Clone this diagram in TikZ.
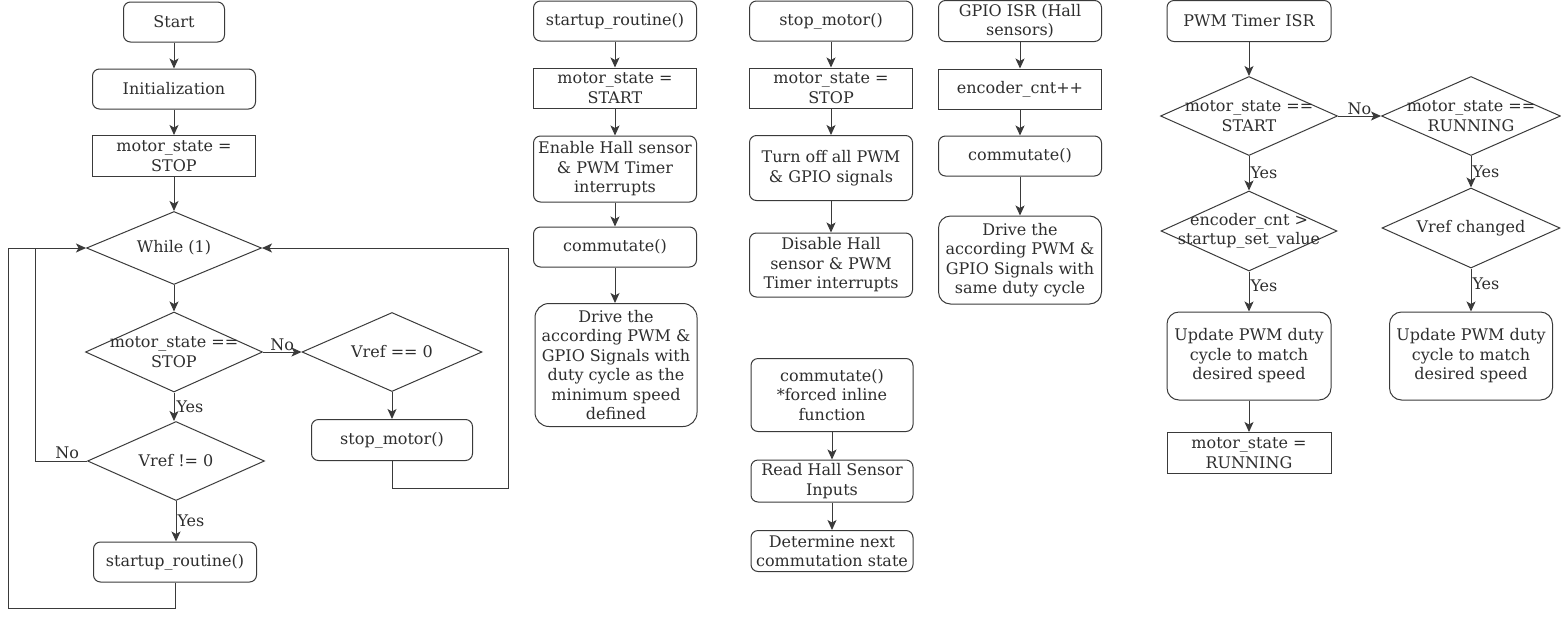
\documentclass[tikz,border=0pt]{standalone}
\usepackage{fontspec}
\setmainfont{DejaVu Serif}
\usetikzlibrary{shapes.geometric,arrows.meta}
\definecolor{ln}{HTML}{3A3A3A}
\definecolor{tx}{HTML}{2E2E2E}
\begin{document}
\begin{tikzpicture}[x=1pt,y=-1pt,
  every node/.style={font=\fontsize{16}{19.5}\selectfont, text=tx, align=center},
  base/.style={draw=ln, line width=1pt, inner sep=0pt},
  rbox/.style={base, rectangle, rounded corners=7pt},
  sbox/.style={base, rectangle},
  dbox/.style={base, diamond},
  lab/.style={inner sep=2pt},
  arr/.style={draw=ln, line width=1pt, -{Stealth[length=10pt,width=9pt,inset=2.5pt]}},
  ln/.style={draw=ln, line width=1pt}]
\useasboundingbox (0,0) rectangle (1561,619);
% ---- column 1: main
\node[rbox, minimum width=101pt, minimum height=40pt] (start) at (174,22) {Start};
\node[rbox, minimum width=163pt, minimum height=40pt] (init) at (174,89) {Initialization};
\node[sbox, minimum width=163pt, minimum height=41pt] (ms1) at (174,156) {motor\_state =\\STOP};
\node[dbox, minimum width=175pt, minimum height=73pt, label={center:While (1)}] (while) at (174,248) {};
\node[dbox, minimum width=177pt, minimum height=80pt, label={[align=center]center:motor\_state ==\\STOP}] (msstop) at (174,352) {};
\node[dbox, minimum width=177pt, minimum height=79pt, label={center:Vref != 0}] (vrefne) at (176,461) {};
\node[rbox, minimum width=163pt, minimum height=40pt] (sr1) at (175,562) {startup\_routine()};
\node[dbox, minimum width=180pt, minimum height=79pt, label={center:Vref == 0}] (vrefeq) at (392,352) {};
\node[rbox, minimum width=161pt, minimum height=41pt] (sm1) at (392,440) {stop\_motor()};
\coordinate (c1) at (392,488);
\coordinate (c2) at (508,488);
\coordinate (c3) at (508,248);
\coordinate (c4) at (175,608);
\coordinate (c5) at (8,608);
\coordinate (c6) at (8,248);
\coordinate (c7) at (35,461);
\coordinate (c8) at (35,248);
\draw[arr] (start) -- (init);
\draw[arr] (init) -- (ms1);
\draw[arr] (ms1) -- (while);
\draw[arr] (while) -- (msstop);
\draw[arr] (msstop.south) -- node[lab, right] (y1) {Yes} (msstop.south |- vrefne.north);
\draw[arr] (vrefne.south) -- node[lab, right, inner sep=1pt] (y2) {Yes} (vrefne.south |- sr1.north);
\draw[arr] (msstop.east) -- node[lab, above, inner sep=1pt] (n1) {No} (vrefeq.west);
\draw[arr] (vrefeq) -- (sm1);
\draw[arr] (sm1.south) -- (c1) -- (c2) -- (c3) -- (while.east);
\draw[arr] (sr1.south) -- (c4) -- (c5) -- (c6) -- (while.west);
\draw[ln] (vrefne.west) -- node[lab, above, pos=0.38] (n2) {No} (c7) -- (c8);
% ---- column 2: startup_routine
\node[rbox, minimum width=163pt, minimum height=40pt] (sr2) at (615,21) {startup\_routine()};
\node[sbox, minimum width=163pt, minimum height=40pt] (ms2) at (615,88) {motor\_state =\\START};
\node[rbox, minimum width=163pt, minimum height=66pt] (en) at (615,169) {Enable Hall sensor\\\& PWM Timer\\interrupts};
\node[rbox, minimum width=163pt, minimum height=40pt] (cm2) at (615,247) {commutate()};
\node[rbox, minimum width=162pt, minimum height=123pt, rounded corners=14pt] (dr2) at (616,365) {Drive the\\according PWM \&\\GPIO Signals with\\duty cycle as the\\minimum speed\\defined};
\draw[arr] (sr2) -- (ms2);
\draw[arr] (ms2) -- (en);
\draw[arr] (en) -- (cm2);
\draw[arr] (cm2) -- (cm2.south |- dr2.north);
% ---- column 3: stop_motor
\node[rbox, minimum width=163pt, minimum height=40pt] (sm2) at (831,21) {stop\_motor()};
\node[sbox, minimum width=163pt, minimum height=40pt] (ms3) at (831,88) {motor\_state =\\STOP};
\node[rbox, minimum width=163pt, minimum height=65pt] (off) at (831,168) {Turn off all PWM\\\& GPIO signals};
\node[rbox, minimum width=163pt, minimum height=64pt] (dis) at (831,265) {Disable Hall\\sensor \& PWM\\Timer interrupts};
\draw[arr] (sm2) -- (ms3);
\draw[arr] (ms3) -- (off);
\draw[arr] (off) -- (dis);
\node[rbox, minimum width=162pt, minimum height=73pt] (cm3) at (832,395) {commutate()\\*forced inline\\function};
\node[rbox, minimum width=162pt, minimum height=42pt] (rh) at (832,481) {Read Hall Sensor\\Inputs};
\node[rbox, minimum width=162pt, minimum height=41pt] (dn) at (832,551) {Determine next\\commutation state};
\draw[arr] (cm3) -- (rh);
\draw[arr] (rh) -- (dn);
% ---- column 4: GPIO ISR
\node[rbox, minimum width=163pt, minimum height=41pt] (gp) at (1020,21) {GPIO ISR (Hall\\sensors)};
\node[sbox, minimum width=163pt, minimum height=40pt] (enc) at (1020,89) {encoder\_cnt++};
\node[rbox, minimum width=163pt, minimum height=40pt] (cm4) at (1020,156) {commutate()};
\node[rbox, minimum width=163pt, minimum height=88pt, rounded corners=12pt] (dr4) at (1020,260) {Drive the\\according PWM \&\\GPIO Signals with\\same duty cycle};
\draw[arr] (gp) -- (enc);
\draw[arr] (enc) -- (cm4);
\draw[arr] (cm4) -- (dr4);
% ---- column 5: PWM Timer ISR
\node[rbox, minimum width=164pt, minimum height=41pt] (pw) at (1249,21) {PWM Timer ISR};
\node[dbox, minimum width=177pt, minimum height=79pt, label={[align=center]center:motor\_state ==\\START}] (d51) at (1249,116) {};
\node[dbox, minimum width=179pt, minimum height=79pt, label={[align=center]center:motor\_state ==\\RUNNING}] (d52) at (1471,116) {};
\node[dbox, minimum width=176pt, minimum height=80pt, label={[align=center]center:encoder\_cnt >\\startup\_set\_value}] (d53) at (1249,231) {};
\node[dbox, minimum width=178pt, minimum height=80pt, label={center:Vref changed}] (d54) at (1471,228) {};
\node[rbox, minimum width=164pt, minimum height=88pt, rounded corners=12pt] (up1) at (1249,356) {Update PWM duty\\cycle to match\\desired speed};
\node[sbox, minimum width=164pt, minimum height=41pt] (ms5) at (1249,453) {motor\_state =\\RUNNING};
\node[rbox, minimum width=163pt, minimum height=88pt, rounded corners=12pt] (up2) at (1471,356) {Update PWM duty\\cycle to match\\desired speed};
\draw[arr] (pw) -- (d51);
\draw[arr] (d51.east) -- node[lab, above, inner sep=1pt] (n3) {No} (d52.west);
\draw[arr] (d51.south) -- node[lab, right, inner sep=1pt] (y3) {Yes} (d51.south |- d53.north);
\draw[arr] (d53.south) -- node[lab, right, inner sep=1pt, pos=0.35] (y4) {Yes} (d53.south |- up1.north);
\draw[arr] (up1) -- (ms5);
\draw[arr] (d52.south) -- node[lab, right, inner sep=1pt] (y5) {Yes} (d52.south |- d54.north);
\draw[arr] (d54.south) -- node[lab, right, inner sep=1pt, pos=0.35] (y6) {Yes} (d54.south |- up2.north);
\end{tikzpicture}
\end{document}
